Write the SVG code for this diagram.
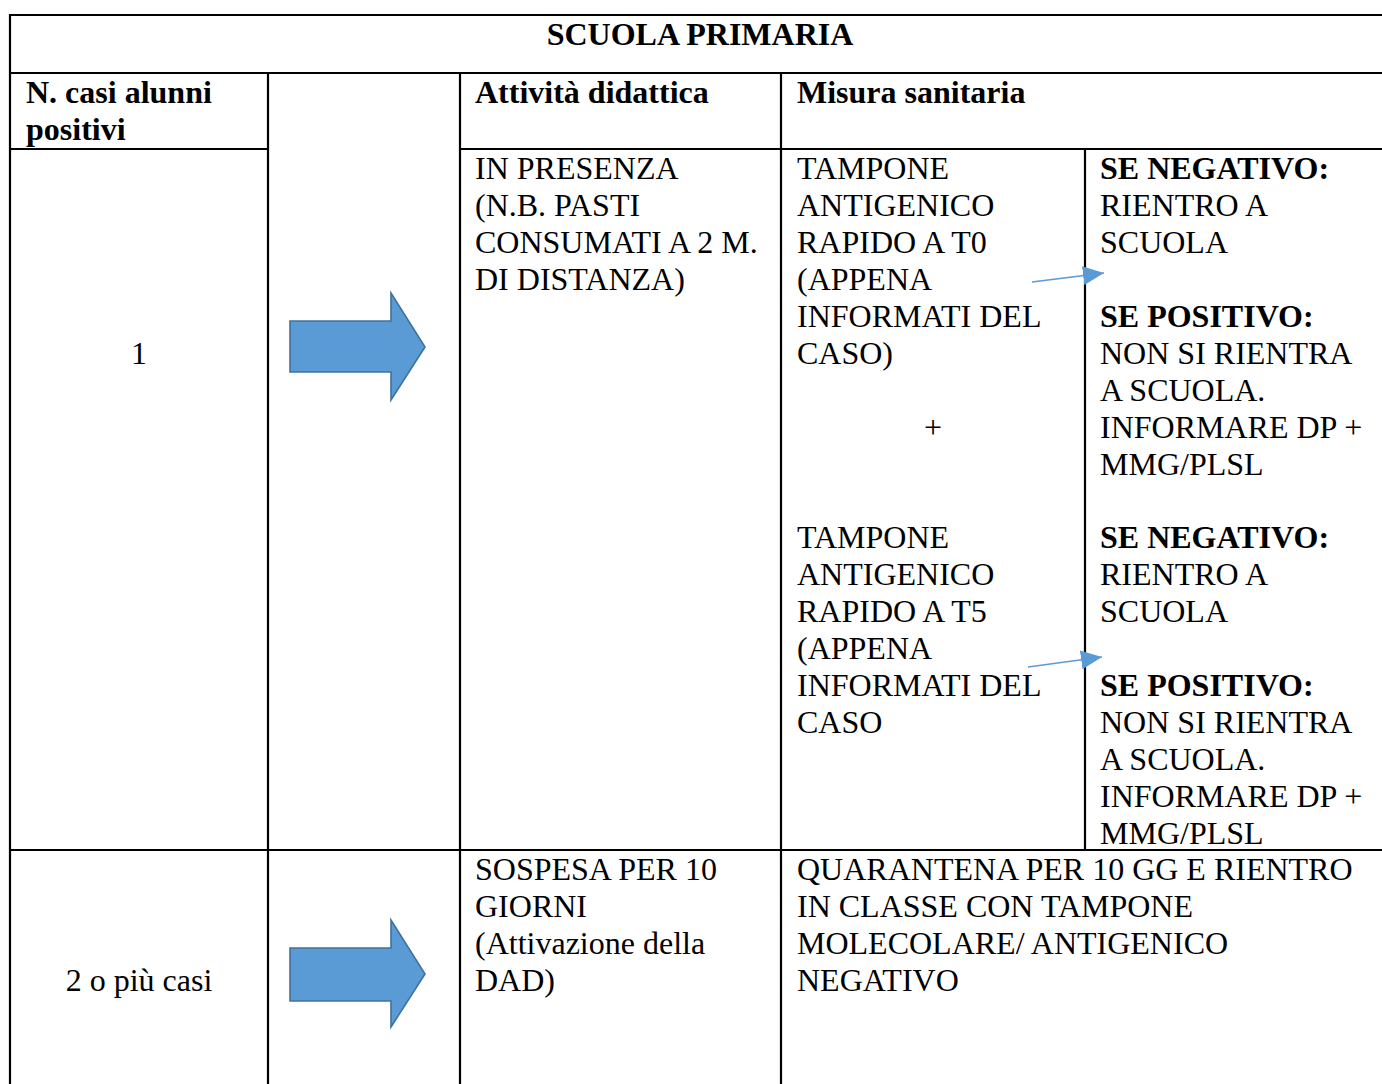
<svg xmlns="http://www.w3.org/2000/svg" width="1382" height="1084" viewBox="0 0 1382 1084">
<style>
text{font-family:"Liberation Serif","Times New Roman",serif;font-size:32px;fill:#000}
.b{font-weight:bold}
.c{text-anchor:middle}
.grid line{stroke:#000;stroke-width:2.2}
.big{fill:#5B9BD5;stroke:#41719C;stroke-width:1.6;stroke-linejoin:miter}
.thin{stroke:#5B9BD5;stroke-width:1.6;fill:none}
</style>
<defs>
<marker id="tri" viewBox="0 0 21 19" refX="21" refY="9.5" markerWidth="21" markerHeight="19" markerUnits="userSpaceOnUse" orient="auto">
<path d="M0,0 L21,9.5 L0,19 z" fill="#5B9BD5"/>
</marker>
</defs>
<rect width="1382" height="1084" fill="#fff"/>
<g id="grid" class="grid">
<line x1="9" y1="15" x2="1382" y2="15"/>
<line x1="9" y1="73" x2="1382" y2="73"/>
<line x1="9" y1="149" x2="268" y2="149"/>
<line x1="460" y1="149" x2="1382" y2="149"/>
<line x1="9" y1="850" x2="1382" y2="850"/>
<line x1="10" y1="14" x2="10" y2="1084"/>
<line x1="268" y1="73" x2="268" y2="1084"/>
<line x1="460" y1="73" x2="460" y2="1084"/>
<line x1="781" y1="73" x2="781" y2="1084"/>
<line x1="1085" y1="149" x2="1085" y2="850"/>
</g>
<g id="title"><text class="b c" x="700" y="45">SCUOLA PRIMARIA</text></g>
<g id="hdr-casi"><text class="b" x="26" y="103">N. casi alunni</text><text class="b" x="26" y="140">positivi</text></g>
<g id="hdr-attivita"><text class="b" x="475" y="103">Attività didattica</text></g>
<g id="hdr-misura"><text class="b" x="797" y="103">Misura sanitaria</text></g>
<g id="row1-n"><text class="c" x="139" y="364">1</text></g>
<g id="row1-arrow"><polygon class="big" points="290,321 391,321 391,293 425,347 391,400 391,372 290,372"/></g>
<g id="row1-attivita">
<text x="475" y="179">IN PRESENZA</text>
<text x="475" y="216">(N.B. PASTI</text>
<text x="475" y="253">CONSUMATI A 2 M.</text>
<text x="475" y="290">DI DISTANZA)</text>
</g>
<g id="row1-t0">
<text x="797" y="179">TAMPONE</text>
<text x="797" y="216">ANTIGENICO</text>
<text x="797" y="253">RAPIDO A T0</text>
<text x="797" y="290">(APPENA</text>
<text x="797" y="327">INFORMATI DEL</text>
<text x="797" y="364">CASO)</text>
</g>
<g id="row1-plus"><text class="c" x="933" y="438">+</text></g>
<g id="row1-t5">
<text x="797" y="548">TAMPONE</text>
<text x="797" y="585">ANTIGENICO</text>
<text x="797" y="622">RAPIDO A T5</text>
<text x="797" y="659">(APPENA</text>
<text x="797" y="696">INFORMATI DEL</text>
<text x="797" y="733">CASO</text>
</g>
<g id="row1-esito-t0">
<text class="b" x="1100" y="179">SE NEGATIVO:</text>
<text x="1100" y="216">RIENTRO A</text>
<text x="1100" y="253">SCUOLA</text>
<text class="b" x="1100" y="327">SE POSITIVO:</text>
<text x="1100" y="364">NON SI RIENTRA</text>
<text x="1100" y="401">A SCUOLA.</text>
<text x="1100" y="438">INFORMARE DP +</text>
<text x="1100" y="475">MMG/PLSL</text>
</g>
<g id="row1-esito-t5">
<text class="b" x="1100" y="548">SE NEGATIVO:</text>
<text x="1100" y="585">RIENTRO A</text>
<text x="1100" y="622">SCUOLA</text>
<text class="b" x="1100" y="696">SE POSITIVO:</text>
<text x="1100" y="733">NON SI RIENTRA</text>
<text x="1100" y="770">A SCUOLA.</text>
<text x="1100" y="807">INFORMARE DP +</text>
<text x="1100" y="844">MMG/PLSL</text>
</g>
<g id="row2-n"><text class="c" x="139" y="991">2 o più casi</text></g>
<g id="row2-arrow"><polygon class="big" points="290,948 391,948 391,920 425,974 391,1027 391,1001 290,1001"/></g>
<g id="row2-attivita">
<text x="475" y="880">SOSPESA PER 10</text>
<text x="475" y="917">GIORNI</text>
<text x="475" y="954">(Attivazione della</text>
<text x="475" y="991">DAD)</text>
</g>
<g id="row2-misura">
<text x="797" y="880">QUARANTENA PER 10 GG E RIENTRO</text>
<text x="797" y="917">IN CLASSE CON TAMPONE</text>
<text x="797" y="954">MOLECOLARE/ ANTIGENICO</text>
<text x="797" y="991">NEGATIVO</text>
</g>
<g id="connectors">
<line class="thin" x1="1032" y1="282" x2="1104" y2="273" marker-end="url(#tri)"/>
<line class="thin" x1="1028" y1="667" x2="1102" y2="657" marker-end="url(#tri)"/>
</g>
</svg>
